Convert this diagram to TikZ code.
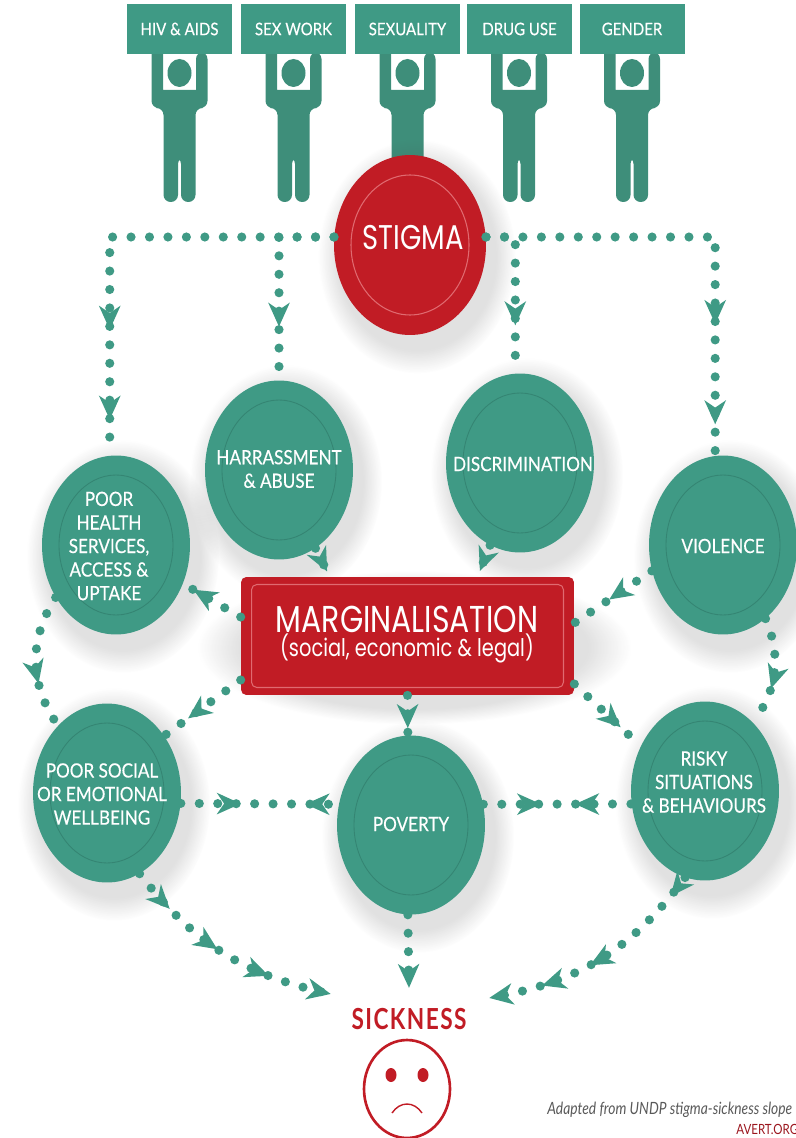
\documentclass[tikz,border=0pt]{standalone}
\usepackage{fontspec}
\usepackage{xcolor}
\usetikzlibrary{arrows.meta,decorations.markings,shapes.geometric,shadows,fadings}
\setmainfont[FakeStretch=0.82]{Lato}
\newfontfamily\labelfont[FakeStretch=0.87,FakeBold=0.35]{Lato}
\newfontfamily\sickfont[FakeStretch=0.78,LetterSpace=5]{Lato}
\newfontfamily\titlefont[FakeStretch=0.8]{Poppins}
\definecolor{leaf}{HTML}{3F9A85}
\definecolor{leafdark}{HTML}{358573}
\definecolor{figure}{HTML}{3E8E7A}
\definecolor{blood}{HTML}{C11C25}
\definecolor{bloodring}{HTML}{E06A70}
\tikzset{
	softshadow/.style={circular drop shadow={shadow xshift=3pt,shadow yshift=-5pt,shadow scale=1.3,opacity=.17,fill=black!70,path fading=circle with fuzzy edge 20 percent}},
	bubble/.style={ellipse,fill=leaf,minimum width=2.96cm,minimum height=3.58cm,inner sep=0pt,softshadow},
	bubbletext/.style={align=center,text=white,font=\labelfont\fontsize{11.2}{13.4}\selectfont,inner sep=0pt},
	ringline/.style={draw=leafdark,line width=.5pt},
	signbox/.style={fill=leaf,text=white,minimum width=2.1cm,minimum height=1cm,inner sep=0pt,font=\labelfont\fontsize{9.8}{11}\selectfont},
	dotlink/.style={color=leaf,line width=5.2pt,line cap=round,dash pattern=on 0pt off 10.5pt},
	headat/.style={postaction={decorate,decoration={markings,mark=at position #1 with {\arrow{Stealth[length=13.5pt,width=12pt,inset=4pt]}}}}},
	backat/.style={postaction={decorate,decoration={markings,mark=at position #1 with {\arrowreversed{Stealth[length=13.5pt,width=12pt,inset=4pt]}}}}},
	hv/.style={to path={-| (\tikztotarget)}},
	placard/.pic={
		\fill[figure,rounded corners=4pt] (-28,-2) -- (-28,54) -- (-16,54) -- (-16,148) -- (-1.5,148) -- (-1.5,103) -- (1.5,103) -- (1.5,148) -- (16,148) -- (16,54) -- (28,54) -- (28,-2) -- (16.5,-2) [sharp corners] -- (16.5,36) -- (-16.5,36) -- (-16.5,-2) -- cycle;
		\fill[figure] (0,19) ellipse [x radius=12,y radius=14];
	}
}
\begin{document}
\begin{tikzpicture}[x=0.02cm,y=-0.02cm]
	\useasboundingbox (0,0) rectangle (795,1138);

	% protesters and their signs
	\pic (man1) at (179.5,54) {placard};
	\pic (man2) at (293.5,54) {placard};
	\pic (man3) at (407.5,54) {placard};
	\pic (man4) at (519,54) {placard};
	\pic (man5) at (632,54) {placard};
	\node[signbox] (hiv) at (179.5,29) {HIV \& AIDS};
	\node[signbox] (sexwork) at (293.5,29) {SEX WORK};
	\node[signbox] (sexuality) at (407.5,29) {SEXUALITY};
	\node[signbox] (druguse) at (519.5,29) {DRUG USE};
	\node[signbox] (gender) at (632,29) {GENDER};

	\node[ellipse,fill=blood,minimum width=3.04cm,minimum height=3.6cm,inner sep=0pt,softshadow] (stigma) at (410,245) {};
	\draw[bloodring,line width=.6pt] (stigma.center) ellipse [x radius=59,y radius=70];
	\node[text=white,inner sep=0pt,font=\titlefont\fontsize{19.5}{22}\selectfont] (stigmatext) at (413,238) {STIGMA};

	\node[bubble] (health) at (116,545) {};
	\node[bubble] (harass) at (279,470) {};
	\node[bubble] (discrim) at (520,463) {};
	\node[bubble] (violence) at (723,545) {};
	\node[bubble] (social) at (107,793) {};
	\node[bubble] (poverty) at (411,825) {};
	\node[bubble] (risky) at (705,791) {};
	\draw[ringline] (health.center) ellipse [x radius=57,y radius=70];
	\draw[ringline] (harass.center) ellipse [x radius=57,y radius=70];
	\draw[ringline] (discrim.center) ellipse [x radius=57,y radius=70];
	\draw[ringline] (violence.center) ellipse [x radius=57,y radius=70];
	\draw[ringline] (social.center) ellipse [x radius=57,y radius=70];
	\draw[ringline] (poverty.center) ellipse [x radius=57,y radius=70];
	\draw[ringline] (risky.center) ellipse [x radius=57,y radius=70];
	\node[bubbletext] (healthtext) at (109,546) {POOR\\HEALTH\\SERVICES,\\ACCESS \&\\UPTAKE};
	\node[bubbletext] (harasstext) at (279,469) {HARRASSMENT\\\& ABUSE};
	\node[bubbletext] (discrimtext) at (523,464) {DISCRIMINATION};
	\node[bubbletext] (violencetext) at (723,546) {VIOLENCE};
	\node[bubbletext] (socialtext) at (102,794) {POOR SOCIAL\\OR EMOTIONAL\\WELLBEING};
	\node[bubbletext] (povertytext) at (411,824) {POVERTY};
	\node[bubbletext] (riskytext) at (704,782) {RISKY\\SITUATIONS\\\& BEHAVIOURS};

	\node[rectangle,fill=blood,rounded corners=3pt,minimum width=6.66cm,minimum height=2.36cm,inner sep=0pt,softshadow] (margin) at (407.5,636) {};
	\node[rectangle,draw=bloodring,line width=.6pt,rounded corners=3pt,minimum width=6.24cm,minimum height=2.06cm,inner sep=0pt] (marginring) at (margin) {};
	\node[text=white,inner sep=0pt,font=\titlefont\fontsize{21.3}{24}\selectfont] (margintext) at (407,619) {MARGINALISATION};
	\node[text=white,inner sep=0pt,font=\titlefont\fontsize{13.8}{17}\selectfont] (marginsub) at (407,648) {(social, economic \& legal)};

	\node[text=blood,inner sep=0pt,font=\sickfont\bfseries\fontsize{16.5}{18}\selectfont] (sickness) at (409,1019) {SICKNESS};
	\node[ellipse,draw=blood,line width=1.5pt,minimum width=1.72cm,minimum height=1.96cm,inner sep=0pt] (face) at (407,1089) {};
	\node[ellipse,fill=blood,minimum width=.22cm,minimum height=.28cm,inner sep=0pt] (eyeL) at (391,1075) {};
	\node[ellipse,fill=blood,minimum width=.22cm,minimum height=.28cm,inner sep=0pt] (eyeR) at (423,1075) {};
	\coordinate (mouthL) at (392,1113);
	\coordinate (mouthR) at (422,1113);
	\draw[blood,line width=.8pt] (mouthL) .. controls (400,1101) and (414,1101) .. (mouthR);

	\node[anchor=west,inner sep=0pt,text=black!65,font=\itshape\fontsize{9.6}{12}\selectfont] (source) at (547,1110) {Adapted from UNDP stigma-sickness slope};
	\node[anchor=west,inner sep=0pt,text=blood!80!black,font=\fontsize{8}{10}\selectfont] (avert) at (736,1129) {AVERT.ORG};

	\coordinate (sickL) at (331,994);
	\coordinate (sickR) at (489,998);

	\path 	(stigma.174) edge[dotlink,hv,headat=.716,headat=.919] (health.94)
			(stigma.174) edge[dotlink,hv,headat=.73] (harass.north)
			(stigma.6) edge[dotlink,hv,headat=.71] (discrim.93)
			(stigma.6) edge[dotlink,hv,headat=.706,headat=.93] (violence.95)
			(harass.-65) edge[dotlink,headat=.82] ([xshift=1.78cm]margin.north west)
			(discrim.-110) edge[dotlink,headat=.82] ([xshift=4.74cm]margin.north west)
			([yshift=.38cm]margin.west) edge[dotlink,headat=.82] (health.-30)
			([yshift=-.88cm]margin.west) edge[dotlink,headat=.69] (social.45)
			(margin.south) edge[dotlink,headat=.82] (poverty.92)
			([yshift=-.96cm]margin.east) edge[dotlink,headat=.7] (risky.145)
			(violence.-160) edge[dotlink,headat=.55] ([yshift=.26cm]margin.east)
			(health.-139) edge[dotlink,bend right=34,headat=.66] (social.126)
			(violence.-60) edge[dotlink,bend left=30,headat=.65] (risky.55)
			(social.-8) edge[dotlink,headat=.38,backat=.79] (poverty.164)
			(poverty.16) edge[dotlink,headat=.39,backat=.62] (risky.-170)
			(social.-68) edge[dotlink,bend right=20,headat=.2,headat=.47,headat=.72,headat=.999] (sickL)
			(poverty.-92) edge[dotlink,headat=.999] ([yshift=.4cm]sickness.north)
			(risky.-103) edge[dotlink,bend left=22,headat=.1,headat=.55,headat=.77,headat=.999] (sickR);
\end{tikzpicture}
\end{document}
